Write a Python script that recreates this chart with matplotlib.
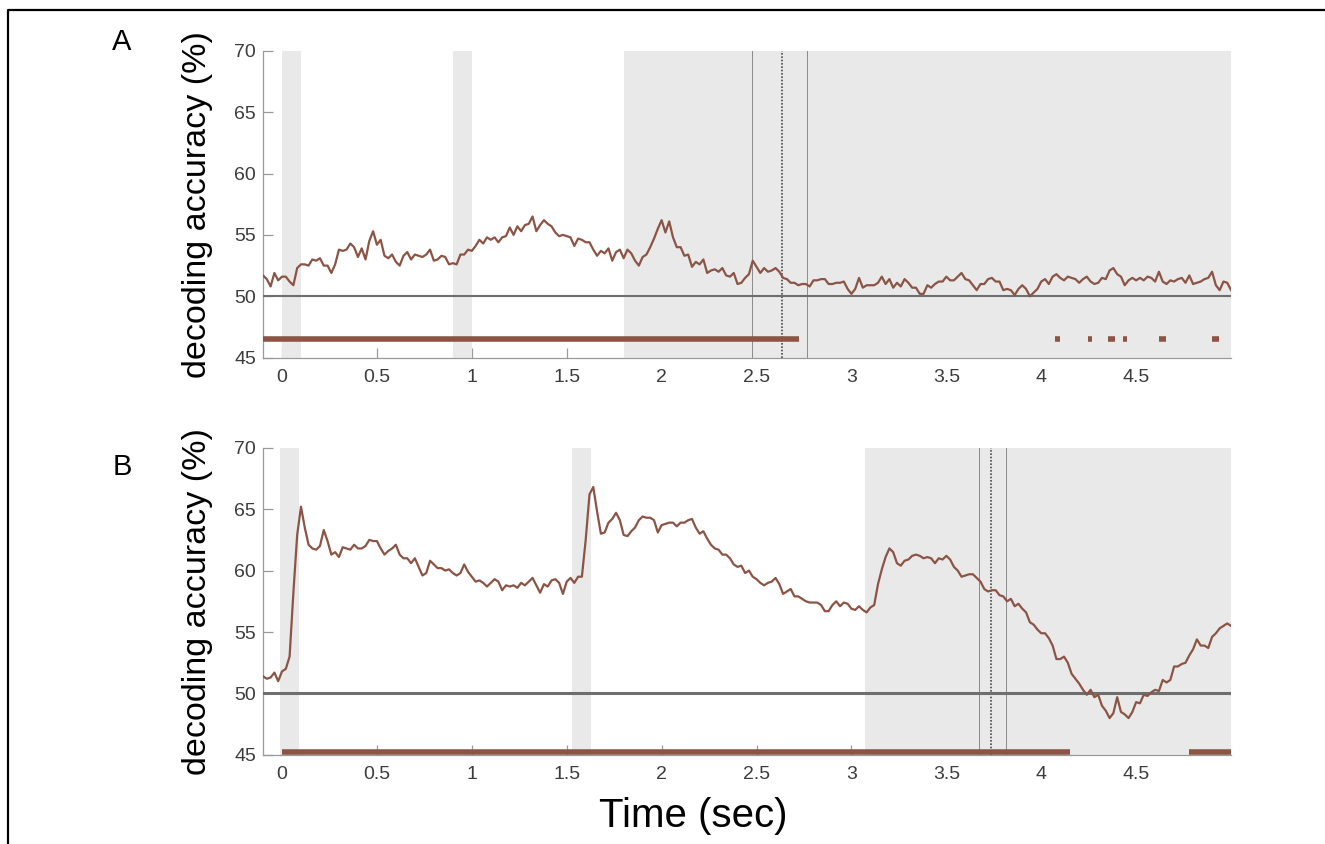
import numpy as np
import matplotlib
matplotlib.use("Agg")
import matplotlib.pyplot as plt
from matplotlib.lines import Line2D

plt.rcParams['font.family'] = ['Liberation Sans', 'DejaVu Sans']

# time axis (sec), one sample every 20 ms
time = np.round(np.arange(-0.10, 5.0001, 0.02), 2)

# panel A : decoding accuracy (%)
acc_a = [
    51.7, 51.4, 50.8, 51.9, 51.3, 51.6, 51.6, 51.2, 50.9, 52.3,
    52.6, 52.6, 52.5, 53.0, 52.9, 53.1, 52.5, 52.5, 51.9, 52.6,
    53.8, 53.7, 53.8, 54.3, 54.0, 53.2, 53.9, 53.0, 54.5, 55.3,
    54.2, 54.6, 53.3, 53.1, 53.4, 52.8, 52.5, 53.3, 53.6, 53.0,
    53.4, 53.3, 53.2, 53.4, 53.8, 52.9, 53.0, 53.3, 53.2, 52.6,
    52.7, 52.6, 53.4, 53.4, 53.8, 53.7, 54.1, 54.6, 54.3, 54.8,
    54.6, 54.8, 54.4, 54.8, 54.9, 55.6, 55.0, 55.7, 55.3, 55.8,
    55.9, 56.5, 55.3, 55.8, 56.2, 55.9, 55.7, 55.2, 54.9, 55.0,
    54.9, 54.8, 54.1, 54.7, 54.6, 54.4, 54.4, 53.8, 53.3, 53.7,
    53.5, 53.9, 52.9, 53.6, 53.8, 53.1, 53.8, 53.5, 52.9, 52.5,
    53.2, 53.4, 54.0, 54.7, 55.5, 56.2, 55.2, 56.1, 54.8, 54.0,
    54.0, 53.3, 53.4, 52.4, 52.8, 52.6, 53.0, 51.9, 52.1, 52.2,
    52.0, 52.3, 51.7, 51.6, 51.9, 51.0, 51.1, 51.5, 51.8, 52.9,
    52.4, 51.9, 52.3, 52.0, 52.1, 52.3, 52.0, 51.5, 51.4, 51.1,
    51.1, 50.9, 51.0, 51.0, 50.8, 51.3, 51.3, 51.4, 51.4, 51.0,
    51.0, 51.1, 51.1, 51.2, 50.6, 50.2, 50.6, 51.5, 50.7, 50.9,
    50.9, 50.9, 51.1, 51.6, 51.0, 51.4, 50.7, 51.1, 50.8, 51.4,
    51.1, 50.7, 50.7, 50.2, 50.2, 50.9, 50.7, 51.0, 51.2, 51.2,
    51.6, 51.3, 51.3, 51.6, 51.9, 51.4, 51.3, 50.9, 50.5, 51.0,
    51.0, 51.4, 51.5, 51.2, 51.2, 50.5, 50.6, 50.5, 50.1, 50.6,
    50.9, 50.6, 50.0, 50.3, 50.6, 51.2, 51.4, 51.0, 51.6, 51.8,
    51.5, 51.3, 51.6, 51.5, 51.4, 51.1, 51.4, 51.6, 51.2, 51.0,
    51.1, 51.5, 51.4, 52.1, 52.3, 51.8, 51.6, 50.9, 51.3, 51.5,
    51.3, 51.5, 51.3, 51.6, 51.5, 51.2, 52.0, 51.2, 51.0, 51.3,
    51.2, 51.4, 51.5, 51.1, 51.7, 51.0, 51.1, 51.2, 51.4, 51.5,
    52.0, 50.9, 50.5, 51.2, 51.1, 50.5,
]

# panel B : decoding accuracy (%)
acc_b = [
    51.4, 51.2, 51.3, 51.7, 51.0, 51.8, 52.0, 53.0, 58.2, 62.9,
    65.2, 63.5, 62.1, 61.8, 61.7, 62.0, 63.3, 62.4, 61.3, 61.5,
    61.1, 61.9, 61.8, 61.7, 62.1, 61.8, 61.8, 62.0, 62.5, 62.4,
    62.4, 61.8, 61.3, 61.6, 61.8, 62.1, 61.3, 61.0, 61.0, 60.6,
    61.0, 60.3, 59.6, 59.8, 60.8, 60.5, 60.2, 60.2, 60.0, 60.1,
    59.8, 59.6, 59.8, 60.5, 59.9, 59.5, 59.1, 59.2, 59.0, 58.7,
    59.0, 59.3, 59.1, 58.4, 58.8, 58.7, 58.8, 58.6, 59.0, 58.8,
    59.1, 59.4, 58.8, 58.2, 58.9, 58.7, 59.2, 59.3, 59.0, 58.1,
    59.1, 59.4, 59.0, 59.5, 59.5, 62.5, 66.2, 66.8, 64.8, 63.0,
    63.1, 63.9, 64.2, 64.7, 64.1, 62.9, 62.8, 63.2, 63.5, 64.1,
    64.4, 64.3, 64.3, 64.1, 63.1, 63.7, 63.8, 63.9, 63.9, 63.6,
    63.9, 63.9, 64.1, 64.2, 63.5, 63.0, 63.2, 62.6, 62.1, 61.8,
    61.7, 61.3, 61.3, 61.0, 60.5, 60.3, 60.4, 59.8, 60.0, 59.5,
    59.3, 59.0, 58.8, 59.0, 59.1, 59.4, 58.9, 58.1, 58.3, 58.5,
    57.9, 57.9, 57.7, 57.5, 57.4, 57.4, 57.4, 57.2, 56.7, 56.7,
    57.2, 57.5, 57.1, 57.4, 57.3, 56.9, 56.8, 57.1, 56.8, 56.6,
    57.0, 57.2, 58.9, 60.1, 61.1, 61.8, 61.5, 60.6, 60.4, 60.8,
    60.9, 61.2, 61.3, 61.2, 61.0, 61.1, 61.0, 60.6, 61.0, 60.9,
    61.2, 60.9, 60.3, 60.0, 59.5, 59.6, 59.7, 59.7, 59.4, 59.1,
    58.5, 58.3, 58.4, 58.4, 58.0, 57.9, 57.5, 57.7, 57.1, 57.3,
    56.9, 56.6, 55.8, 55.6, 55.2, 54.9, 54.9, 54.5, 53.9, 52.8,
    52.8, 53.0, 52.5, 51.6, 51.2, 50.8, 50.3, 49.9, 50.3, 49.7,
    49.9, 49.0, 48.6, 48.0, 48.4, 49.7, 48.5, 48.3, 48.0, 48.5,
    49.3, 49.2, 49.9, 49.8, 50.1, 50.3, 50.2, 51.1, 50.9, 51.1,
    52.2, 52.2, 52.4, 52.5, 53.1, 53.6, 54.4, 53.9, 53.9, 53.7,
    54.6, 54.9, 55.3, 55.5, 55.7, 55.5,
]

chance_level = 50

# grey epochs (start, end) in sec
shade_a = [(0.0, 0.1), (0.9, 1.0), (1.8, 5.0)]
shade_b = [(-0.01, 0.09), (1.527, 1.627), (3.07, 5.0)]

# reaction-time markers: solid = bounds, dotted = mean
rt_bounds_a = [2.477, 2.765]
rt_mean_a = 2.633
rt_bounds_b = [3.671, 3.816]
rt_mean_b = 3.737

# significant clusters (start, end) in sec
sig_a = [(-0.1, 2.723), (4.075, 4.101), (4.248, 4.270), (4.354, 4.390),
         (4.429, 4.451), (4.618, 4.655), (4.900, 4.937)]
sig_a_level = 46.5
sig_b = [(0.0, 4.15), (4.78, 5.0)]
sig_b_level = 45.25

xticks = [0, 0.5, 1, 1.5, 2, 2.5, 3, 3.5, 4, 4.5]
xticklabels = ['0', '0.5', '1', '1.5', '2', '2.5', '3', '3.5', '4', '4.5']
yticks = [45, 50, 55, 60, 65, 70]

line_color = '#8b5445'
shade_color = '#e9e9e9'


def draw_panel(ax, acc, shades, bounds, rt_mean, sig, sig_level, chance_lw):
    for start, end in shades:
        ax.axvspan(start, end, color=shade_color, lw=0, zorder=1)
    for x in bounds:
        ax.axvline(x, color='#8a8a8a', lw=0.7, zorder=2)
    ax.axvline(rt_mean, color='#4a4a4a', lw=1.2, ls=(0, (1, 1)), zorder=2)
    ax.axhline(chance_level, color='#6e6e6e', lw=chance_lw, zorder=3)
    ax.plot(time, acc, color=line_color, lw=1.6, zorder=4)
    ax.hlines([sig_level] * len(sig), [s for s, e in sig], [e for s, e in sig],
              color=line_color, lw=4, zorder=4)

    ax.set_xlim(-0.1, 5.0)
    ax.set_ylim(45, 70)
    ax.set_xticks(xticks)
    ax.set_xticklabels(xticklabels)
    ax.set_yticks(yticks)
    ax.set_axisbelow(True)
    for side in ['top', 'right']:
        ax.spines[side].set_visible(False)
    for side in ['left', 'bottom']:
        ax.spines[side].set_color('#9a9a9a')
        ax.spines[side].set_linewidth(0.9)
    ax.tick_params(direction='in', length=7, width=0.9, color='#9a9a9a',
                   labelsize=14, labelcolor='#3c3c3c')
    ax.tick_params(axis='x', pad=8)
    ax.tick_params(axis='y', pad=5)
    ax.set_ylabel('decoding accuracy (%)', fontsize=24.5)
    ax.yaxis.set_label_coords(-0.052, 0.5)


fig = plt.figure(figsize=(13.25, 8.44), dpi=100)
ax_a = fig.add_axes([0.1985, 0.5762, 0.7306, 0.3637])
ax_b = fig.add_axes([0.1985, 0.1055, 0.7306, 0.3641])

draw_panel(ax_a, acc_a, shade_a, rt_bounds_a, rt_mean_a, sig_a, sig_a_level, 1.5)
draw_panel(ax_b, acc_b, shade_b, rt_bounds_b, rt_mean_b, sig_b, sig_b_level, 2.2)

ax_b.set_xlabel('Time (sec)', fontsize=29, va='top')
ax_b.xaxis.set_label_coords(0.444, -0.137)

# panel letters
fig.text(122 / 1325, 1 - 42 / 844, 'A', fontsize=21, ha='center', va='center')
fig.text(122 / 1325, 1 - 467 / 844, 'B', fontsize=21, ha='center', va='center')

# outer frame (top and left edges)
fig.add_artist(Line2D([8 / 1325, 8 / 1325, 1.0], [0.0, 1 - 10 / 844, 1 - 10 / 844],
                      transform=fig.transFigure, color='black', lw=1.6))

fig.savefig('out.png', dpi=100)
